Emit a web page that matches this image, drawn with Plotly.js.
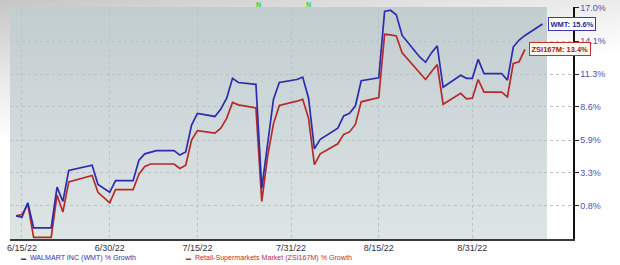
<!DOCTYPE html>
<html>
<head>
<meta charset="utf-8">
<script src="https://cdn.plot.ly/plotly-3.0.1.min.js"></script>
<style>
  html, body { margin: 0; padding: 0; }
  body { width: 620px; height: 265px; overflow: hidden;
         background: linear-gradient(172deg, #c6c6c6 0px, #e6e6e6 70px, #ffffff 140px); }
  #chart { width: 620px; height: 265px; }
</style>
</head>
<body>
<div id="chart"></div>
<script>
// ---- data (growth in %) ----
const dates = [
  '2022-06-14','2022-06-15','2022-06-16','2022-06-17','2022-06-20','2022-06-21','2022-06-22','2022-06-23',
  '2022-06-27','2022-06-28','2022-06-30','2022-07-01','2022-07-04','2022-07-05','2022-07-06','2022-07-07',
  '2022-07-08','2022-07-11','2022-07-12','2022-07-13','2022-07-14','2022-07-15','2022-07-18','2022-07-19',
  '2022-07-20','2022-07-21','2022-07-22','2022-07-25','2022-07-26','2022-07-27','2022-07-28','2022-07-29',
  '2022-08-01','2022-08-02','2022-08-03','2022-08-04','2022-08-05','2022-08-08','2022-08-09','2022-08-10',
  '2022-08-11','2022-08-12','2022-08-15','2022-08-16','2022-08-17','2022-08-18','2022-08-19','2022-08-22',
  '2022-08-23','2022-08-24','2022-08-25','2022-08-26','2022-08-29','2022-08-30','2022-08-31','2022-09-01',
  '2022-09-02','2022-09-05','2022-09-06','2022-09-07','2022-09-08','2022-09-09','2022-09-12'
];
const wmtGrowth = [
  0.0, -0.1, 1.0, -0.9, -0.9, 2.2, 1.1, 3.5,
  3.9, 2.4, 1.8, 2.7, 2.7, 4.3, 4.8, 4.95,
  5.05, 5.05, 4.7, 4.95, 7.1, 8.05, 7.8, 8.4,
  9.3, 10.95, 10.6, 10.45, 2.1, 5.6, 9.2, 10.6,
  10.85, 11.05, 9.3, 5.2, 5.95, 6.85, 7.85, 8.05,
  8.65, 10.75, 11.0, 16.7, 16.8, 16.4, 14.6, 12.75,
  12.3, 13.1, 13.7, 10.2, 11.2, 10.95, 10.95, 12.55,
  11.35, 11.35, 10.8, 13.6, 14.2, 14.6, 15.6
];
const zsiGrowth = [
  0.0, 0.1, 0.9, -1.6, -1.6, 1.6, 0.3, 2.6,
  3.1, 1.8, 1.0, 2.0, 2.0, 3.2, 3.8, 4.0,
  4.0, 4.0, 3.65, 3.9, 5.9, 6.65, 6.45, 6.85,
  7.65, 8.95, 8.75, 8.5, 1.1, 4.6, 7.2, 8.7,
  9.05, 9.2, 7.65, 3.95, 4.8, 5.6, 6.35, 6.55,
  7.15, 9.0, 9.35, 14.7, 14.65, 14.55, 13.1, 11.35,
  10.85, 11.5, 12.1, 8.8, 9.7, 9.25, 9.3, 10.85,
  9.8, 9.8, 9.4, 12.2, 12.35, 13.4, null
];
const xTickDates  = ['2022-06-15','2022-06-30','2022-07-15','2022-07-31','2022-08-15','2022-08-31'];
const xTickLabels = ['6/15/22','6/30/22','7/15/22','7/31/22','8/15/22','8/31/22'];
const yTickValues = [0.8, 3.3, 5.9, 8.6, 11.3, 14.1, 17.0];
const seriesNames = ['WALMART INC (WMT) % Growth', 'Retail-Supermarkets Market (ZSI167M) % Growth'];
const lastLabels  = ['WMT: 15.6%', 'ZSI167M: 13.4%'];
const newsDates   = ['2022-07-25 12:00', '2022-08-03'];

// growth axis is a log scale of the growth factor (1 + g)
const toFactor = g => (g === null ? null : 1 + g / 100);

const BLUE = '#2c2cae', RED = '#b52a2a';

const traces = [
  { x: dates, y: zsiGrowth.map(toFactor), type: 'scatter', mode: 'lines', name: seriesNames[1],
    line: { color: RED, width: 1.7 }, connectgaps: false },
  { x: dates, y: wmtGrowth.map(toFactor), type: 'scatter', mode: 'lines', name: seriesNames[0],
    line: { color: BLUE, width: 1.7 } }
];

const bgSvg = '<svg xmlns="http://www.w3.org/2000/svg" width="100" height="100" preserveAspectRatio="none">' +
  '<defs><linearGradient id="g" x1="0" y1="0" x2="0" y2="1">' +
  '<stop offset="0" stop-color="#c2cdd0"/><stop offset="1" stop-color="#dee5e5"/></linearGradient></defs>' +
  '<rect width="100" height="100" fill="url(#g)"/></svg>';

const lastWmtIdx = wmtGrowth.length - 1;
let lastZsiIdx = zsiGrowth.length - 1;
while (zsiGrowth[lastZsiIdx] === null) lastZsiIdx--;

const layout = {
  width: 620, height: 265,
  margin: { l: 10, r: 47, t: 7, b: 26 },
  paper_bgcolor: 'rgba(0,0,0,0)',
  plot_bgcolor: 'rgba(0,0,0,0)',
  showlegend: false,
  hovermode: false,
  font: { family: 'Liberation Sans, Arial, sans-serif', size: 9, color: '#333' },
  xaxis: {
    type: 'date',
    range: ['2022-06-12 23:00', '2022-09-17 05:00'],
    tickvals: xTickDates, ticktext: xTickLabels,
    tickfont: { size: 9, color: '#333344' },
    showgrid: true, gridcolor: '#b9c2c4', griddash: 'dot', gridwidth: 1,
    showline: true, linecolor: '#3a3a3a', linewidth: 1.5,
    ticks: '', zeroline: false, fixedrange: true
  },
  yaxis: {
    type: 'log', side: 'right',
    range: [-0.00756, 0.06851],
    tickvals: yTickValues.map(toFactor),
    ticktext: yTickValues.map(v => v.toFixed(1) + '%'),
    tickfont: { size: 9, color: '#5050aa' },
    ticks: 'outside', ticklen: 4, tickcolor: '#222', tickwidth: 1,
    showline: true, linecolor: '#111', linewidth: 1.5,
    showgrid: true, gridcolor: '#b9c2c4', griddash: 'dot', gridwidth: 1,
    zeroline: false, fixedrange: true
  },
  images: [{
    source: 'data:image/svg+xml;charset=utf-8,' + encodeURIComponent(bgSvg),
    xref: 'paper', yref: 'paper', x: 0, y: 1, sizex: (547 - 10) / 563, sizey: 1,
    xanchor: 'left', yanchor: 'top', sizing: 'stretch', layer: 'below'
  }],
  annotations: [
    { x: dates[lastWmtIdx], y: Math.log10(toFactor(wmtGrowth[lastWmtIdx])), xref: 'x', yref: 'y',
      text: '<b>' + lastLabels[0] + '</b>', showarrow: false, xanchor: 'left', xshift: 5,
      font: { size: 7.5, color: '#2a2a90' }, bgcolor: '#ffffff', bordercolor: '#3a3ab0',
      borderwidth: 1, borderpad: 1.5 },
    { x: dates[lastZsiIdx], y: Math.log10(toFactor(zsiGrowth[lastZsiIdx])), xref: 'x', yref: 'y',
      text: '<b>' + lastLabels[1] + '</b>', showarrow: false, xanchor: 'left', xshift: 4,
      font: { size: 7.5, color: '#a02020' }, bgcolor: '#fff8f0', bordercolor: '#c03030',
      borderwidth: 1, borderpad: 1.5 },
    { x: 0.016, y: -0.082, xref: 'paper', yref: 'paper', xanchor: 'left', yanchor: 'middle',
      showarrow: false, text: '<span style="font-size:5px">▬</span>  ' + seriesNames[0],
      font: { size: 7.1, color: '#3030b0' } },
    { x: 0.309, y: -0.082, xref: 'paper', yref: 'paper', xanchor: 'left', yanchor: 'middle',
      showarrow: false, text: '<span style="font-size:5px">▬</span>  ' + seriesNames[1],
      font: { size: 7.1, color: '#b53030' } },
    { x: newsDates[0], y: 1.009, xref: 'x', yref: 'paper', yanchor: 'middle', showarrow: false,
      text: '<b>N</b>', font: { size: 7, color: '#2bd62b' } },
    { x: newsDates[1], y: 1.009, xref: 'x', yref: 'paper', yanchor: 'middle', showarrow: false,
      text: '<b>N</b>', font: { size: 7, color: '#2bd62b' } }
  ]
};

Plotly.newPlot('chart', traces, layout, { displayModeBar: false, staticPlot: true });
</script>
</body>
</html>
